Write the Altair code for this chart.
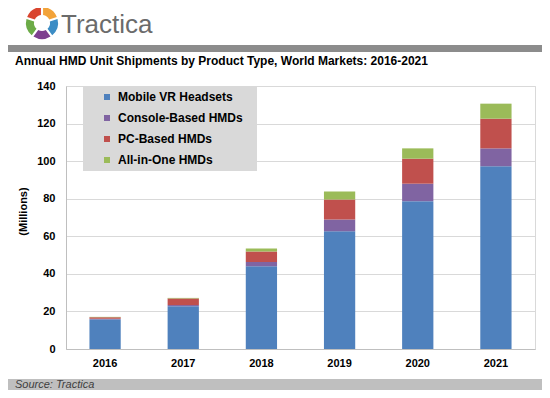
import altair as alt
import pandas as pd

years = ["2016", "2017", "2018", "2019", "2020", "2021"]
products = ["Mobile VR Headsets", "Console-Based HMDs", "PC-Based HMDs", "All-in-One HMDs"]
colors = ["#4F81BD", "#8064A2", "#C0504D", "#9BBB59"]
mobile = [15.8, 22.8, 44.0, 62.7, 78.7, 97.3]
console = [0.3, 0.6, 2.3, 6.2, 9.3, 9.5]
pc = [0.8, 3.5, 5.6, 10.7, 13.3, 15.8]
aio = [0.2, 0.3, 1.6, 4.2, 5.5, 8.0]
y_ticks = [0, 20, 40, 60, 80, 100, 120, 140]

logo_parts = [1, 1, 1, 1, 1]
logo_colors = ["#F2A33A", "#3C8DC5", "#7D3F8F", "#6CAB47", "#D9452F"]

FONT = "Liberation Sans"

series = [mobile, console, pc, aio]
rows = []
for i, (p, vals) in enumerate(zip(products, series)):
    for yr, v in zip(years, vals):
        rows.append({"year": yr, "product": p, "value": v, "idx": i})
df = pd.DataFrame(rows)

one = alt.Data(values=[{}])

bars = alt.Chart(df).mark_bar().encode(
    x=alt.X("year:N", sort=years,
            scale=alt.Scale(paddingInner=0.6, paddingOuter=0.3),
            axis=alt.Axis(title=None, labelAngle=0, ticks=False, grid=False,
                          labelPadding=8, domainColor="#BFBFBF")),
    y=alt.Y("value:Q", stack="zero",
            scale=alt.Scale(domain=[0, 140], nice=False),
            axis=alt.Axis(values=y_ticks, title="(Millions)", ticks=False,
                          labelPadding=11, titlePadding=8, titleY=125,
                          gridColor="#D9D9D9", domainColor="#BFBFBF")),
    color=alt.Color("product:N",
                    scale=alt.Scale(domain=products, range=colors),
                    legend=alt.Legend(orient="none", legendX=35, legendY=5,
                                      title=None, symbolType="square",
                                      symbolSize=36, symbolStrokeWidth=0,
                                      labelFont=FONT, labelFontSize=12,
                                      labelFontWeight="bold", labelColor="#000000",
                                      labelOffset=5, rowPadding=9, padding=0)),
    order=alt.Order("idx:Q", sort="ascending"),
)

legend_bg = alt.Chart(one).mark_rect(color="#D9D9D9").encode(
    x=alt.value(17), x2=alt.value(191), y=alt.value(1), y2=alt.value(85))

header_bar = alt.Chart(one).mark_rect(color="#8C8C8C").encode(
    x=alt.value(-58), x2=alt.value(476), y=alt.value(-41), y2=alt.value(-34))

footer_bar = alt.Chart(one).mark_rect(color="#BFBFBF").encode(
    x=alt.value(-58), x2=alt.value(476), y=alt.value(293), y2=alt.value(304))

logo_df = pd.DataFrame({"v": logo_parts, "c": logo_colors, "i": list(range(5))})
logo = alt.Chart(logo_df).mark_arc(innerRadius=8, outerRadius=16, padAngle=0.12).encode(
    theta=alt.Theta("v:Q", stack=True),
    fill=alt.Fill("c:N", scale=None),
    order=alt.Order("i:Q"),
    x=alt.value(-24), y=alt.value(-63))

logo_text = alt.Chart(one).mark_text(
    text="Tractica", align="left", baseline="alphabetic", font=FONT,
    fontSize=26, color="#6B6B6B").encode(x=alt.value(-5), y=alt.value(-53))

title_text = alt.Chart(one).mark_text(
    text="Annual HMD Unit Shipments by Product Type, World Markets: 2016-2021",
    align="left", baseline="alphabetic", font=FONT, fontSize=12,
    fontWeight="bold", color="#000000").encode(x=alt.value(-51), y=alt.value(-21))

source_text = alt.Chart(one).mark_text(
    text="Source: Tractica", align="left", baseline="alphabetic", font=FONT,
    fontSize=11, fontStyle="italic", color="#404040").encode(
    x=alt.value(-51), y=alt.value(302))

chart = alt.layer(
    legend_bg, bars, header_bar, footer_bar, logo, logo_text, title_text, source_text
).properties(
    width=469, height=263,
    autosize=alt.AutoSizeParams(type="none"),
    padding={"left": 58, "top": 78, "right": 7, "bottom": 41},
).configure_view(
    stroke="#D9D9D9"
).configure_axis(
    labelFont=FONT, labelFontSize=11, labelFontWeight="bold", labelColor="#000000",
    titleFont=FONT, titleFontSize=11, titleFontWeight="bold", titleColor="#000000",
)

chart.save("out.html", embed_options={"renderer": "svg", "actions": False})
